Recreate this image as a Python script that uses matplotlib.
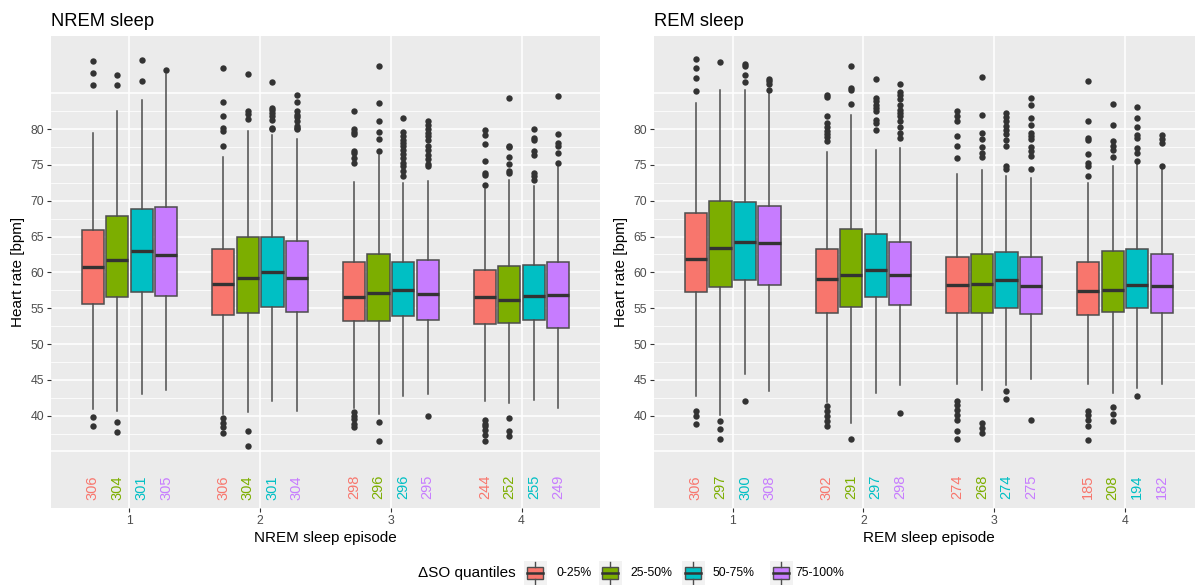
import matplotlib
matplotlib.use("Agg")
import matplotlib.pyplot as plt
from matplotlib.patches import Rectangle

plt.rcParams['font.family'] = ['Liberation Sans', 'DejaVu Sans']

# ---------------- data ----------------
episodes = [1, 2, 3, 4]
quantile_labels = ["0-25%", "25-50%", "50-75%", "75-100%"]
colors = ["#F8766D", "#7CAE00", "#00BFC4", "#C77CFF"]

nrem_counts = [[306, 304, 301, 305], [306, 304, 301, 304], [298, 296, 296, 295], [244, 252, 255, 249]]
rem_counts = [[306, 297, 300, 308], [302, 291, 297, 298], [274, 268, 274, 275], [185, 208, 194, 182]]

nrem_q1 = [[55.6, 56.5, 57.2, 56.7], [54.0, 54.3, 55.2, 54.5], [53.2, 53.2, 53.9, 53.3], [52.8, 52.9, 53.3, 52.3]]
nrem_med = [[60.7, 61.8, 63.0, 62.4], [58.4, 59.2, 60.0, 59.2], [56.5, 57.1, 57.6, 57.0], [56.5, 56.1, 56.7, 56.8]]
nrem_q3 = [[65.9, 67.9, 68.8, 69.1], [63.2, 65.0, 65.0, 64.4], [61.5, 62.5, 61.5, 61.8], [60.4, 60.9, 61.0, 61.4]]
nrem_lo = [[40.9, 40.6, 43.0, 43.6], [40.2, 40.5, 42.1, 40.6], [41.1, 40.3, 42.8, 43.0], [42.1, 41.7, 42.2, 41.1]]
nrem_hi = [[79.5, 82.5, 84.0, 87.7], [76.1, 79.7, 79.2, 78.6], [72.6, 76.4, 72.5, 72.7], [71.6, 72.9, 72.0, 74.8]]
nrem_out = [
    [[89.5, 87.9, 86.2, 39.8, 38.6], [87.5, 86.2, 39.1, 37.7], [89.6, 86.7], [88.3]],
    [[88.5, 83.8, 81.9, 80.1, 79.8, 77.7, 39.7, 39.0, 38.4, 37.6],
     [87.7, 82.5, 82.1, 81.4, 37.9, 35.8],
     [86.6, 82.9, 82.7, 82.3, 81.9, 81.3, 80.1, 80.0],
     [84.7, 83.8, 82.6, 82.0, 81.7, 81.1, 80.5, 80.2, 80.0]],
    [[82.6, 80.0, 79.6, 79.3, 76.9, 76.6, 75.9, 75.3, 40.5, 40.0, 39.5, 38.9, 38.4],
     [88.8, 83.7, 81.2, 79.6, 78.6, 77.0, 39.1, 36.5],
     [81.6, 79.6, 79.0, 78.5, 78.0, 77.6, 77.1, 76.5, 75.9, 75.3, 74.8, 74.1, 73.4],
     [81.2, 80.6, 80.0, 79.4, 79.0, 78.5, 77.7, 77.1, 76.4, 75.8, 75.2, 74.9, 40.0]],
    [[79.9, 79.2, 77.9, 75.5, 73.9, 73.6, 72.2, 39.4, 38.9, 38.5, 38.0, 37.3, 36.5],
     [84.3, 77.7, 77.5, 76.1, 75.2, 74.1, 73.9, 39.7, 37.8, 37.1],
     [80.0, 78.7, 78.5, 76.9, 76.4, 73.9, 73.4, 72.9],
     [84.6, 79.3, 78.0, 77.7, 76.6, 75.3]],
]

rem_q1 = [[57.2, 58.0, 59.0, 58.3], [54.4, 55.2, 56.5, 55.5], [54.4, 54.4, 55.0, 54.2], [54.0, 54.5, 55.1, 54.4]]
rem_med = [[61.9, 63.4, 64.2, 64.1], [59.1, 59.7, 60.4, 59.6], [58.2, 58.4, 58.9, 58.1], [57.4, 57.6, 58.3, 58.1]]
rem_q3 = [[68.3, 69.9, 69.8, 69.2], [63.3, 66.1, 65.4, 64.3], [62.2, 62.6, 62.8, 62.2], [61.5, 63.0, 63.2, 62.5]]
rem_lo = [[42.75, 40.1, 45.8, 43.4], [41.9, 39.0, 43.1, 44.3], [44.4, 43.6, 44.3, 45.1], [44.4, 43.1, 43.8, 44.4]]
rem_hi = [[83.7, 85.5, 85.5, 85.0], [76.8, 82.0, 77.1, 77.3], [73.7, 74.3, 73.5, 73.2], [72.5, 74.9, 75.5, 74.9]]
rem_out = [
    [[89.8, 88.6, 87.1, 85.3, 40.7, 40.0, 38.8], [89.4, 39.3, 38.1, 36.8],
     [89.1, 88.8, 87.6, 86.6, 42.0], [87.0, 86.7, 86.3, 85.5]],
    [[84.8, 84.5, 81.8, 80.8, 80.3, 79.8, 79.3, 78.9, 78.3, 41.3, 40.6, 39.9, 39.2, 38.5],
     [88.75, 85.7, 85.4, 83.5, 36.8],
     [87.0, 84.3, 83.9, 83.4, 82.9, 82.5, 81.3, 80.8, 79.9],
     [86.3, 85.2, 84.8, 84.2, 83.3, 82.7, 82.2, 81.8, 81.1, 80.3, 79.5, 78.7, 40.4]],
    [[82.6, 81.9, 81.2, 79.1, 77.6, 76.0, 42.1, 41.5, 40.8, 40.1, 39.4, 37.8, 36.8],
     [87.3, 82.0, 79.5, 78.6, 77.5, 76.6, 76.1, 39.0, 38.3, 37.6],
     [82.3, 81.7, 81.1, 80.5, 79.9, 79.3, 78.5, 77.7, 74.8, 74.4, 43.4, 42.3],
     [84.4, 83.3, 81.6, 80.6, 79.4, 79.0, 78.6, 77.5, 76.9, 76.2, 74.5, 39.4]],
    [[86.75, 81.1, 78.7, 78.5, 76.5, 75.25, 74.9, 73.5, 40.7, 40.1, 39.4, 38.5, 36.6],
     [83.5, 80.6, 78.3, 77.7, 77.1, 76.1, 41.2, 40.3, 39.3],
     [83.1, 81.5, 80.3, 79.2, 78.7, 77.3, 76.6, 75.6, 42.8],
     [79.2, 78.6, 78.0, 74.9]],
]

y_ticks = [40, 45, 50, 55, 60, 65, 70, 75, 80]

# ---------------- figure ----------------
W, H = 1195, 585
fig = plt.figure(figsize=(W / 100, H / 100), dpi=100)
fig.patch.set_facecolor("white")

panel_bg = "#EBEBEB"
dark = "#333333"
edge = "#4D4D4D"
dodge = 0.1875
bwidth = 0.17


def px_axes(x0, y0, x1, y1):
    return fig.add_axes([x0 / W, 1 - y1 / H, (x1 - x0) / W, (y1 - y0) / H])


def draw_panel(ax, q1, med, q3, lo, hi, out, counts, title, xlabel):
    ax.set_facecolor(panel_bg)
    ax.set_xlim(0.4, 4.6)
    ax.set_ylim(27.07, 93.0)
    # grid
    for v in range(35, 86, 5):
        ax.axhline(v, color="white", lw=1.1, zorder=0.5)
    for k in range(7, 34):
        v = 2.5 * k
        if 37.5 <= v <= 82.5 and v % 5 != 0:
            ax.axhline(v, color="white", lw=0.55, zorder=0.5)
    for e in episodes:
        ax.axvline(e, color="white", lw=1.1, zorder=0.5)

    stats, pos, cols = [], [], []
    for i, e in enumerate(episodes):
        for k in range(4):
            stats.append(dict(q1=q1[i][k], med=med[i][k], q3=q3[i][k],
                              whislo=lo[i][k], whishi=hi[i][k], fliers=out[i][k]))
            pos.append(e + (k - 1.5) * dodge)
            cols.append(colors[k])
    bp = ax.bxp(stats, positions=pos, widths=bwidth, patch_artist=True,
                showcaps=False, manage_ticks=False,
                boxprops=dict(edgecolor=edge, linewidth=1.1),
                medianprops=dict(color=dark, linewidth=2.4, solid_capstyle="butt"),
                whiskerprops=dict(color=edge, linewidth=1.1),
                flierprops=dict(marker="o", markerfacecolor=dark, markeredgecolor="none",
                                markersize=4.6))
    for patch, c in zip(bp["boxes"], cols):
        patch.set_facecolor(c)
    for artist_list in bp.values():
        for a in artist_list:
            a.set_zorder(2)

    for i, e in enumerate(episodes):
        for k in range(4):
            ax.text(e + (k - 1.5) * dodge, 30.0, str(counts[i][k]), rotation=90,
                    ha="center", va="center", color=colors[k], fontsize=10.5)

    ax.set_xticks(episodes)
    ax.set_xticklabels([str(e) for e in episodes])
    ax.set_yticks(y_ticks)
    ax.set_yticklabels([str(v) for v in y_ticks])
    ax.tick_params(axis="both", length=3, width=0.8, color=dark,
                   labelcolor=edge, labelsize=8.8, pad=2)
    for s in ax.spines.values():
        s.set_visible(False)
    ax.set_ylabel("Heart rate [bpm]", fontsize=11, color="black", labelpad=4)
    ax.set_xlabel(xlabel, fontsize=11, color="black", labelpad=3)
    ax.set_title(title, loc="left", fontsize=13.2, color="black", pad=7)


ax1 = px_axes(51, 36, 600, 508.3)
draw_panel(ax1, nrem_q1, nrem_med, nrem_q3, nrem_lo, nrem_hi, nrem_out, nrem_counts,
           "NREM sleep", "NREM sleep episode")
ax2 = px_axes(654.3, 36, 1203.3, 508.3)
draw_panel(ax2, rem_q1, rem_med, rem_q3, rem_lo, rem_hi, rem_out, rem_counts,
           "REM sleep", "REM sleep episode")

# ---------------- legend ----------------
lg = fig.add_axes([0, 0, 1, 1], zorder=5)
lg.set_xlim(0, W)
lg.set_ylim(H, 0)
lg.axis("off")
lg.patch.set_alpha(0)
yc = 573
lg.text(418, yc, "\u0394SO quantiles", fontsize=11, va="center", ha="left", color="black")
key_x = [524, 599, 682, 770]
lab_x = [557, 630, 713, 795]
for kx, lx, c, lab in zip(key_x, lab_x, colors, quantile_labels):
    lg.add_patch(Rectangle((kx, yc - 12), 23, 24, facecolor="#F2F2F2", edgecolor="none"))
    cx = kx + 11.5
    lg.plot([cx, cx], [yc - 11, yc - 6], color=edge, lw=1)
    lg.plot([cx, cx], [yc + 6, yc + 11], color=edge, lw=1)
    lg.add_patch(Rectangle((kx + 3.5, yc - 6), 16, 12, facecolor=c, edgecolor=edge, lw=1))
    lg.plot([kx + 3.5, kx + 19.5], [yc, yc], color=dark, lw=1.8)
    lg.text(lx, yc, lab, fontsize=8.8, va="center", ha="left", color="black")

fig.savefig("out.png", dpi=100)
